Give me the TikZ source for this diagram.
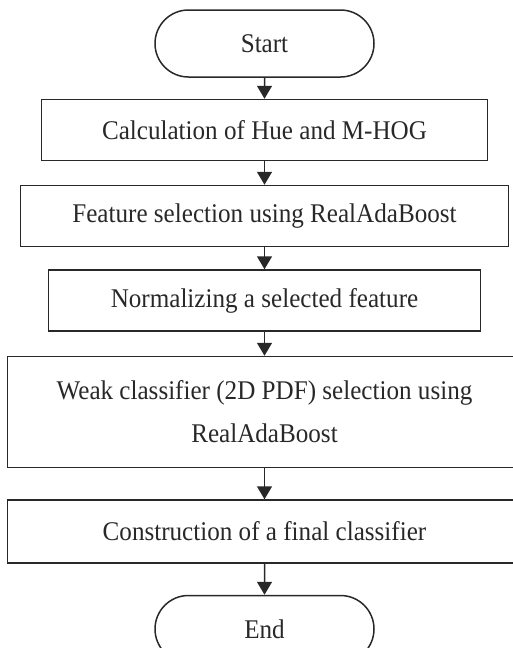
\documentclass[tikz,border=0pt]{standalone}
\usepackage{fontspec}
\setmainfont{Liberation Serif}[FakeStretch=0.93]
\usetikzlibrary{arrows.meta,positioning,shapes.misc}
\definecolor{flowInk}{RGB}{40,40,40}

\begin{document}
\begin{tikzpicture}[
  x=1pt,y=1pt,
  term/.style={draw=flowInk,rounded rectangle,line width=1.5pt,minimum width=219pt,minimum height=67pt,inner sep=0pt,text=flowInk},
  box/.style={draw=flowInk,line width=1.5pt,align=center,minimum height=61pt,inner sep=0pt,text=flowInk},
  arrow/.style={-{Triangle[length=13pt,width=15pt]},line width=1.5pt,draw=flowInk},
  font=\fontsize{27}{43}\selectfont
]
\useasboundingbox (0,0) rectangle (513,-648);
\node[term] (start) at (264.5,-43.5) {Start};
\node[box,minimum width=446pt,below=21pt of start] (hue) {Calculation of Hue and M-HOG};
\node[box,minimum width=488pt,below=23.5pt of hue] (select) {Feature selection using RealAdaBoost};
\node[box,minimum width=432pt,below=22pt of select] (norm) {Normalizing a selected feature};
\node[box,minimum width=514pt,minimum height=111pt,below=24pt of norm] (weak) {Weak classifier (2D PDF) selection using\\RealAdaBoost};
\node[box,minimum width=514pt,minimum height=63pt,below=31pt of weak] (final) {Construction of a final classifier};
\node[term,below=31pt of final] (end) {End};
\draw[arrow] (start) -- (hue);
\draw[arrow] (hue) -- (select);
\draw[arrow] (select) -- (norm);
\draw[arrow] (norm) -- (weak);
\draw[arrow] (weak) -- (final);
\draw[arrow] (final) -- (end);
\end{tikzpicture}
\end{document}
